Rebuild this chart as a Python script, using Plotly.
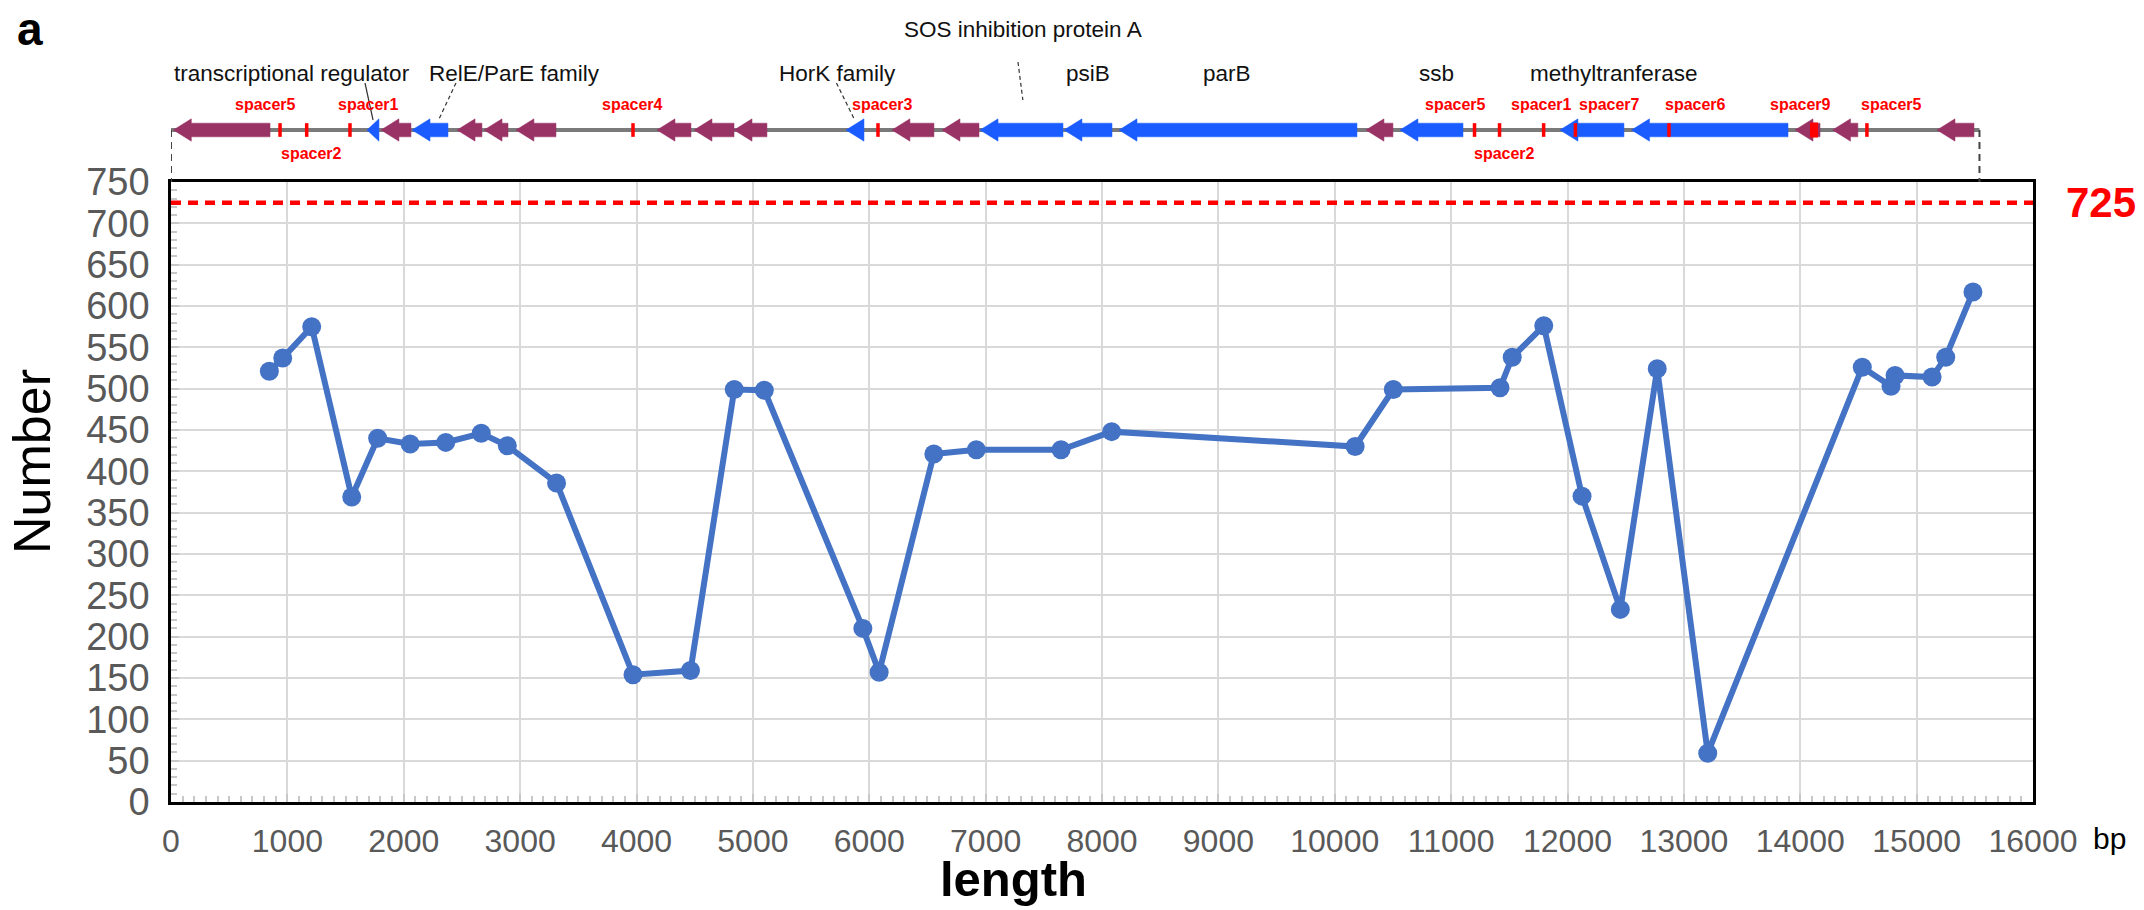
import plotly.graph_objects as go

# ---------------- data ----------------
pos_bp = [845, 960, 1209, 1553, 1776, 2055, 2361, 2666, 2890, 3313, 3970, 4464,
          4840, 5098, 5945, 6085, 6555, 6920, 7648, 8083, 10175, 10503, 11420,
          11525, 11796, 12125, 12454, 12771, 13205, 14533, 14780, 14815, 15133,
          15250, 15484]
counts = [521, 537, 575, 369, 440, 433, 435, 446, 431, 386, 154, 159,
          499, 498, 210, 157, 421, 426, 426, 448, 430, 499, 501,
          538, 576, 370, 233, 524, 59, 526, 503, 516, 514,
          538, 617]
threshold = 725

contig_end = 15540
gene_start = [20, 1684, 1804, 2071, 2458, 2690, 2964, 4176, 4494, 4838, 5800, 6195,
              6625, 6952, 7673, 8146, 10268, 10560, 11935, 12550, 13955, 14277, 15175]
gene_end = [851, 1787, 2062, 2380, 2672, 2896, 3308, 4468, 4838, 5121, 5955, 6556,
            6943, 7665, 8086, 10191, 10500, 11102, 12485, 13895, 14170, 14495, 15493]
gene_group = ['hyp', 'ann', 'hyp', 'ann', 'hyp', 'hyp', 'hyp', 'hyp', 'hyp', 'hyp', 'ann', 'hyp',
              'hyp', 'ann', 'ann', 'ann', 'hyp', 'ann', 'ann', 'ann', 'hyp', 'hyp', 'hyp']

spacer_pos = [937, 1166, 1538, 3970, 6075, 11201, 11416, 11795, 12068, 12872, 14118, 14573]
spacer_names = ['spacer5', 'spacer2', 'spacer1', 'spacer4', 'spacer3', 'spacer5', 'spacer2',
                'spacer1', 'spacer7', 'spacer6', 'spacer9', 'spacer5']
spacer_label_bp = [810, 1203, 1693, 3966, 6114, 11039, 11455, 11778, 12365, 13096, 13998, 14780]
spacer_side = ['up', 'down', 'up', 'up', 'up', 'up', 'down', 'up', 'up', 'up', 'up', 'up']

gene_names = ['transcriptional regulator', 'RelE/ParE family', 'HorK family',
              'SOS inhibition protein A', 'psiB', 'parB', 'ssb', 'methyltranferase']
gene_name_bp = [1037, 2948, 5723, 7320, 7880, 9070, 10877, 12400]
gene_name_row = ['mid', 'mid', 'mid', 'top', 'mid', 'mid', 'mid', 'mid']
# leader lines: (label end bp, gene end bp)
leader_from_bp = [1667, 2449, 5718, 7278]
leader_to_bp = [1736, 2299, 5875, 7320]
leader_row = ['mid', 'mid', 'mid', 'top']
leader_dash = ['solid', 'dash', 'dash', 'dash']

x_ticks = list(range(0, 16001, 1000))
x_ticktext = [str(v) for v in x_ticks]
y_ticks = list(range(0, 751, 50))

# ---------------- layout helpers (pixel rows from the top) ----------------
W, H = 2144, 910
L, R, T, B = 171, 111, 10, 108
PW, PH = W - L - R, H - T - B
PLOT_TOP = 182
TRACK_Y = 130
ROW_GENE, ROW_TOP, ROW_SP_UP, ROW_SP_DN = 74, 29, 105, 154


def py(p):
    return (H - B - p) / PH


def px(p):
    return (p - L) / PW


FONT = "Liberation Sans, Arial, sans-serif"
PURPLE = '#993366'
BLUE = '#1a5cff'
LINEBLUE = '#4472C4'
bp_per_px = 16000 / PW
head_bp = 18 * bp_per_px
H_HEAD, H_BODY, H_SP = 0.31, 0.19, 0.19

fig = go.Figure()

# gene track backbone
fig.add_trace(go.Scatter(x=[0, contig_end], y=[0, 0], mode='lines',
                         line=dict(color='#7a7a7a', width=4),
                         xaxis='x2', yaxis='y2', hoverinfo='skip', showlegend=False))


def arrows(group):
    xs, ys = [], []
    for s, e, g in zip(gene_start, gene_end, gene_group):
        if g != group:
            continue
        h = min(head_bp, e - s)
        xs += [s, s + h, s + h, e, e, s + h, s + h, s, None]
        ys += [0, H_HEAD, H_BODY, H_BODY, -H_BODY, -H_BODY, -H_HEAD, 0, None]
    return xs, ys


for grp, col in (('hyp', PURPLE), ('ann', BLUE)):
    xs, ys = arrows(grp)
    fig.add_trace(go.Scatter(x=xs, y=ys, mode='lines', fill='toself', fillcolor=col,
                             line=dict(color=col, width=0.5), xaxis='x2', yaxis='y2',
                             hoverinfo='skip', showlegend=False))

sx, sy = [], []
for p in spacer_pos:
    sx += [p, p, None]
    sy += [-H_SP, H_SP, None]
fig.add_trace(go.Scatter(x=sx, y=sy, mode='lines', line=dict(color='#ff0000', width=3.5),
                         xaxis='x2', yaxis='y2', hoverinfo='skip', showlegend=False))
for p, n in zip(spacer_pos, spacer_names):
    if n == 'spacer9':
        fig.add_trace(go.Scatter(x=[p, p], y=[-H_SP * 1.1, H_SP * 1.1], mode='lines',
                                 line=dict(color='#ff0000', width=8), xaxis='x2', yaxis='y2',
                                 hoverinfo='skip', showlegend=False))

# main data line
fig.add_trace(go.Scatter(x=pos_bp, y=counts, mode='lines+markers',
                         line=dict(color=LINEBLUE, width=6),
                         marker=dict(size=19, color=LINEBLUE),
                         xaxis='x', yaxis='y', hoverinfo='x+y', showlegend=False,
                         cliponaxis=False))

# threshold line
fig.add_shape(type='line', xref='paper', x0=0, x1=1, yref='y', y0=threshold, y1=threshold,
              line=dict(color='#ff0000', width=4.5, dash='10px,7px'))

annotations = []
annotations.append(dict(text=f"<b>{threshold}</b>", xref='paper', x=px(2101), yref='y', y=threshold,
                        xanchor='center', yanchor='middle', showarrow=False,
                        font=dict(size=42, color='#ff0000', family=FONT)))

for xv in (0, contig_end):
    fig.add_shape(type='line', xref='x', x0=xv, x1=xv, yref='paper', y0=py(TRACK_Y), y1=py(PLOT_TOP),
                  line=dict(color='#444444', width=2, dash='7px,5px'))

for a, b, d, row in zip(leader_from_bp, leader_to_bp, leader_dash, leader_row):
    if row == 'top':
        y0, y1 = py(ROW_TOP + 33), py(ROW_TOP + 71)
    else:
        y0, y1 = py(ROW_GENE + 9), py(TRACK_Y - 10)
    fig.add_shape(type='line', xref='x', x0=a, x1=b, yref='paper', y0=y0, y1=y1,
                  line=dict(color='#333333', width=1.2, dash=d if d == 'solid' else '4px,3px'))

for n, xb, row in zip(gene_names, gene_name_bp, gene_name_row):
    annotations.append(dict(text=n, xref='x', x=xb, yref='paper',
                            y=py(ROW_GENE if row == 'mid' else ROW_TOP), xanchor='center',
                            yanchor='middle', showarrow=False,
                            font=dict(size=22.5, color='#111111', family=FONT)))

for n, xb, side in zip(spacer_names, spacer_label_bp, spacer_side):
    annotations.append(dict(text=f"<b>{n}</b>", xref='x', x=xb, yref='paper',
                            y=py(ROW_SP_UP if side == 'up' else ROW_SP_DN), xanchor='center',
                            yanchor='middle', showarrow=False,
                            font=dict(size=16, color='#ff0000', family=FONT)))

annotations += [
    dict(text="Number", xref='paper', x=px(32), yref='paper', y=py(462), textangle=-90,
         xanchor='center', yanchor='middle', showarrow=False,
         font=dict(size=52, color='black', family=FONT)),
    dict(text="<b>length</b>", xref='paper', x=px(1013), yref='paper', y=py(908),
         xanchor='center', yanchor='bottom', showarrow=False,
         font=dict(size=49, color='black', family=FONT)),
    dict(text="bp", xref='paper', x=px(2091), yref='paper', y=py(838),
         xanchor='left', yanchor='middle', showarrow=False,
         font=dict(size=30, color='black', family=FONT)),
    dict(text="<b>a</b>", xref='paper', x=px(30), yref='paper', y=py(1),
         xanchor='center', yanchor='top', showarrow=False,
         font=dict(size=46, color='black', family=FONT)),
]

axis_common = dict(showgrid=True, gridcolor='#d9d9d9', gridwidth=2, zeroline=False,
                   showline=True, mirror=True, linecolor='black', linewidth=2.5,
                   ticks='inside', ticklen=8, tickwidth=2, tickcolor='#c8c8c8',
                   automargin=False)

fig.update_layout(
    width=W, height=H, autosize=False,
    margin=dict(l=L, r=R, t=T, b=B),
    paper_bgcolor='white', plot_bgcolor='white',
    showlegend=False,
    annotations=annotations,
    xaxis=dict(range=[0, 16000], tickvals=x_ticks, ticktext=x_ticktext, domain=[0, 1], anchor='y',
               minor=dict(ticks='inside', dtick=100, ticklen=6, tickwidth=2,
                          tickcolor='#c8c8c8', showgrid=False),
               tickfont=dict(size=32, color='#595959', family=FONT),
               ticklabelstandoff=9, **axis_common),
    yaxis=dict(range=[0, 750], tickvals=y_ticks, domain=[0, py(PLOT_TOP)], anchor='x',
               minor=dict(ticks='inside', dtick=10, ticklen=6, tickwidth=2,
                          tickcolor='#c8c8c8', showgrid=False),
               tickfont=dict(size=38, color='#595959', family=FONT),
               ticklabelstandoff=11, **axis_common),
    xaxis2=dict(range=[0, 16000], domain=[0, 1], anchor='y2', visible=False,
                showgrid=False, zeroline=False),
    yaxis2=dict(range=[-1, 1], domain=[py(TRACK_Y + 36), py(TRACK_Y - 36)], anchor='x2',
                visible=False, showgrid=False, zeroline=False),
)

fig.write_html("out.html", config={'displayModeBar': False},
               post_script="document.body.style.margin='0';document.body.style.overflow='hidden';")
